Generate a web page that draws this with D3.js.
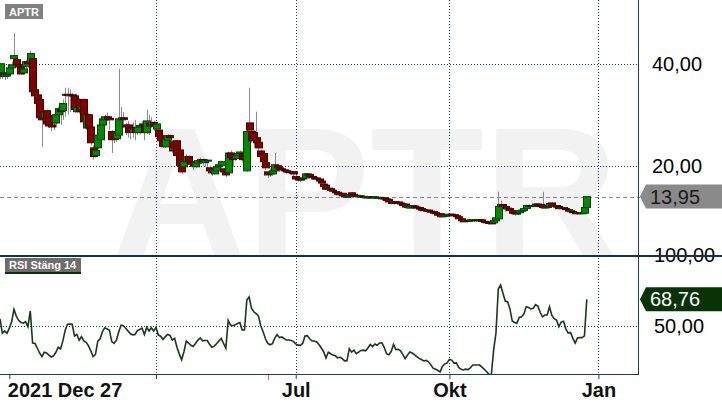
<!DOCTYPE html>
<html>
<head>
<meta charset="utf-8">
<script src="https://cdn.jsdelivr.net/npm/d3@7"></script>
<style>
  body { margin: 0; background: #fff; }
  svg { display: block; font-family: "Liberation Sans", Arial, sans-serif; }
</style>
</head>
<body>
<div class="chart"></div>
<script>
var ticker = "APTR",
    rsiName = "RSI Stäng 14";

// Stockholm closing days inside the period
var holidays = ["2021-12-31", "2022-01-06", "2022-04-15", "2022-04-18", "2022-05-26",
                "2022-06-06", "2022-06-24", "2022-12-26"];

var tickDates = ["2022-01-03", "2022-04-01", "2022-07-01", "2022-10-03", "2023-01-02"],
    tickLabels = ["2021 Dec 27", "", "Jul", "Okt", "Jan"],
    gridDates = ["2022-04-01", "2022-07-01", "2022-10-03", "2023-01-02"],
    eventDates = ["2022-06-14"];

var priceTicks = [20, 40],
    rsiTicks = [50, 100],
    rsiLevel = 50;

var open = [
  37.6, 38.2, 37.5, 37.6, 38.0, 39.2, 41.0, 40.8, 39.8, 39.4,
  38.2, 39.4, 40.4, 40.2, 41.0, 34.9, 33.9, 33.0, 29.4, 29.4,
  30.8, 29.8, 28.0, 29.8, 28.4, 30.0, 31.0, 30.8, 33.9, 34.0,
  33.9, 33.9, 33.7, 30.6, 33.0, 31.0, 33.0, 27.4, 30.0, 27.6,
  23.5, 22.0, 23.5, 25.1, 28.0, 29.0, 29.6, 29.3, 26.7, 25.4,
  25.3, 26.0, 29.0, 29.4, 28.0, 28.0, 27.5, 26.6, 27.5, 26.5,
  27.6, 28.0, 28.0, 26.5, 28.4, 27.8, 28.5, 27.2, 27.0, 25.9,
  24.8, 23.7, 25.0, 25.9, 24.7, 23.0, 24.9, 23.1, 20.0, 19.8,
  20.8, 21.8, 20.8, 20.2, 19.8, 20.5, 20.8, 21.2, 20.6, 21.0,
  19.6, 19.0, 18.4, 19.0, 19.8, 20.0, 19.4, 18.8, 18.6, 22.5,
  21.6, 21.4, 22.0, 22.4, 22.4, 22.0, 19.0, 28.4, 26.7, 26.5,
  25.5, 24.6, 22.9, 22.4, 20.6, 18.8, 18.4, 18.4, 19.0, 20.0,
  19.6, 19.4, 19.2, 19.0, 18.9, 18.8, 18.8, 17.9, 17.6, 17.4,
  17.4, 17.6, 18.2, 18.3, 17.9, 17.6, 17.6, 17.4, 17.0, 16.4,
  16.2, 15.5, 15.5, 15.2, 14.9, 14.8, 14.5, 14.6, 14.2, 13.9,
  14.0, 14.7, 14.4, 14.2, 14.1, 14.0, 14.0, 13.8, 13.7, 13.8,
  13.9, 13.7, 13.8, 13.6, 13.5, 13.7, 13.5, 13.4, 13.0, 12.6,
  12.9, 12.9, 12.7, 12.5, 12.5, 11.9, 11.7, 11.8, 12.1, 11.9,
  11.8, 11.6, 11.4, 11.3, 11.3, 11.1, 11.0, 10.8, 10.6, 10.6,
  10.0, 10.1, 10.2, 10.2, 10.5, 10.4, 10.2, 10.0, 9.6, 9.2,
  9.1, 9.3, 9.2, 9.3, 9.35, 9.4, 9.3, 9.4, 9.1, 9.0,
  8.9, 8.8, 8.8, 9.2, 9.6, 12.0, 12.4, 12.0, 11.6, 11.6,
  11.2, 10.8, 10.6, 10.8, 11.1, 11.2, 11.6, 12.1, 12.2, 12.1,
  12.2, 12.5, 12.4, 12.3, 11.8, 11.9, 12.0, 12.7, 12.0, 12.2,
  12.0, 11.7, 11.8, 11.6, 11.4, 11.1, 11.0, 10.8, 10.6, 10.8,
  10.7, 10.7, 11.8
];

var high = [
  40.2, 38.8, 38.4, 38.2, 39.5, 40.4, 46.0, 41.2, 40.4, 39.8,
  39.4, 40.8, 41.0, 42.6, 41.5, 35.5, 34.5, 33.4, 30.0, 30.8,
  31.0, 30.2, 28.4, 30.2, 30.4, 31.6, 31.4, 33.0, 35.3, 35.3,
  35.0, 34.3, 34.0, 33.0, 33.2, 32.0, 33.2, 30.4, 30.4, 28.0,
  24.0, 23.6, 26.4, 28.4, 29.6, 30.0, 30.4, 29.8, 27.0, 26.0,
  27.0, 39.0, 31.5, 30.5, 28.4, 28.8, 28.0, 28.5, 29.0, 28.0,
  28.2, 28.8, 28.2, 31.0, 30.0, 29.5, 28.8, 28.6, 27.4, 26.2,
  25.2, 25.9, 26.2, 26.1, 25.0, 24.9, 25.1, 23.3, 20.3, 21.2,
  22.2, 22.0, 21.0, 20.6, 21.0, 21.4, 21.6, 21.4, 21.4, 21.3,
  20.0, 19.4, 19.8, 20.2, 20.5, 21.0, 19.6, 19.0, 22.8, 23.0,
  22.0, 22.4, 22.6, 23.0, 22.6, 22.2, 27.0, 35.3, 27.0, 27.0,
  30.6, 25.0, 23.2, 22.6, 21.0, 19.0, 19.5, 19.2, 22.5, 20.4,
  19.8, 19.6, 19.4, 19.2, 19.2, 19.0, 19.0, 18.2, 17.8, 17.6,
  17.9, 18.6, 18.6, 18.4, 18.1, 17.8, 17.8, 17.5, 17.1, 16.5,
  16.3, 15.8, 15.6, 15.4, 15.1, 14.9, 14.7, 14.8, 14.3, 14.1,
  14.7, 14.8, 14.7, 14.4, 14.3, 14.2, 14.2, 14.0, 14.0, 14.1,
  14.0, 14.0, 14.0, 13.9, 13.8, 13.8, 13.6, 13.5, 13.1, 13.0,
  13.0, 13.0, 12.8, 12.6, 12.6, 12.1, 12.2, 12.3, 12.2, 12.0,
  11.9, 11.7, 11.5, 11.4, 11.4, 11.2, 11.1, 10.9, 10.7, 10.7,
  10.4, 10.5, 10.5, 10.6, 10.6, 10.5, 10.3, 10.1, 9.7, 9.4,
  9.4, 9.4, 9.5, 9.5, 9.5, 9.5, 9.5, 9.5, 9.2, 9.1,
  9.0, 8.9, 9.5, 10.0, 14.9, 13.2, 12.5, 12.1, 11.9, 11.7,
  11.3, 10.9, 11.0, 11.4, 11.5, 11.8, 12.4, 12.4, 12.4, 12.5,
  12.6, 12.6, 12.5, 14.9, 12.1, 12.2, 12.8, 12.8, 12.3, 12.3,
  12.0, 12.0, 12.0, 11.8, 11.5, 11.3, 11.1, 10.9, 10.9, 10.9,
  10.9, 11.9, 13.95
];

var low = [
  37.0, 37.0, 36.8, 37.0, 37.5, 39.0, 40.6, 39.5, 39.0, 37.8,
  37.8, 39.2, 39.6, 40.0, 34.0, 33.0, 31.8, 29.0, 23.7, 29.0,
  28.0, 27.4, 26.8, 27.0, 27.5, 29.6, 28.0, 29.0, 29.6, 30.0,
  30.5, 32.0, 30.4, 30.4, 30.2, 29.0, 28.0, 27.0, 27.0, 24.0,
  21.2, 21.6, 23.2, 24.8, 27.0, 28.0, 28.8, 27.0, 22.5, 24.4,
  24.6, 25.5, 28.0, 27.5, 26.0, 25.5, 25.2, 25.5, 25.0, 26.0,
  26.2, 27.0, 25.0, 26.2, 26.0, 27.4, 26.8, 26.5, 25.2, 24.4,
  23.5, 23.5, 24.5, 24.0, 22.5, 22.6, 21.6, 19.6, 18.4, 19.4,
  20.4, 20.4, 19.9, 19.2, 19.5, 20.2, 20.4, 20.0, 19.8, 19.0,
  18.6, 18.0, 18.2, 18.6, 19.4, 19.6, 18.2, 17.8, 18.4, 21.2,
  19.8, 21.0, 21.6, 21.5, 20.8, 20.6, 18.8, 26.2, 24.5, 23.5,
  23.5, 23.0, 21.4, 20.2, 19.2, 17.6, 17.8, 18.0, 18.8, 19.2,
  18.8, 18.8, 18.6, 18.4, 18.4, 18.2, 18.0, 17.0, 16.9, 16.8,
  17.1, 17.4, 17.6, 17.6, 17.2, 17.2, 17.0, 16.8, 16.4, 15.6,
  15.2, 15.2, 15.0, 14.8, 14.6, 14.2, 14.2, 14.0, 13.7, 13.7,
  13.9, 14.0, 13.8, 13.8, 13.8, 13.7, 13.6, 13.5, 13.5, 13.6,
  13.6, 13.5, 13.5, 13.4, 13.2, 13.3, 13.0, 12.7, 12.4, 12.4,
  12.5, 12.4, 12.3, 12.0, 11.8, 11.7, 11.6, 11.6, 11.6, 11.5,
  11.3, 11.2, 11.0, 11.0, 10.9, 10.7, 10.6, 10.5, 10.2, 9.9,
  9.9, 10.0, 10.0, 10.1, 10.2, 10.0, 9.9, 9.4, 9.0, 9.0,
  9.0, 9.0, 9.1, 9.2, 9.2, 9.2, 9.2, 9.0, 8.8, 8.6,
  8.5, 8.5, 8.7, 9.1, 9.5, 11.8, 11.4, 11.0, 11.2, 10.6,
  10.4, 10.2, 10.4, 10.6, 10.8, 11.0, 11.5, 11.9, 11.9, 11.9,
  12.0, 12.1, 11.8, 11.6, 11.6, 11.7, 11.9, 11.9, 11.8, 11.6,
  11.4, 11.5, 11.5, 11.1, 10.9, 10.9, 10.6, 10.5, 10.4, 10.5,
  10.5, 10.5, 11.6
];

var close = [
  40.0, 37.6, 38.0, 37.9, 39.2, 39.8, 41.6, 39.8, 39.4, 38.0,
  39.0, 40.4, 40.0, 42.0, 34.5, 33.7, 32.2, 29.4, 29.0, 30.4,
  28.2, 27.8, 27.6, 28.4, 30.0, 31.2, 30.6, 32.2, 34.0, 33.8,
  33.9, 33.7, 31.0, 31.4, 30.6, 31.6, 28.6, 30.0, 27.4, 24.5,
  21.8, 23.0, 26.0, 28.0, 29.2, 29.6, 29.2, 29.0, 25.1, 25.2,
  26.4, 29.2, 29.4, 29.1, 27.6, 26.5, 26.9, 27.1, 26.5, 27.6,
  27.9, 28.2, 26.5, 28.8, 27.8, 28.5, 27.8, 28.2, 25.7, 24.9,
  23.8, 25.2, 25.9, 25.5, 22.9, 23.5, 22.0, 20.0, 18.8, 20.8,
  21.8, 20.8, 20.3, 19.9, 20.6, 21.0, 21.2, 20.8, 21.0, 21.1,
  19.0, 18.6, 19.2, 19.8, 20.2, 20.8, 18.8, 18.2, 22.5, 21.6,
  21.2, 22.0, 22.4, 22.7, 21.2, 21.2, 26.7, 27.0, 24.9, 25.0,
  24.5, 23.5, 21.8, 20.8, 19.6, 18.2, 18.6, 19.0, 20.2, 19.6,
  19.2, 19.3, 19.0, 18.8, 18.8, 18.6, 18.4, 17.4, 17.2, 17.2,
  17.6, 18.4, 18.4, 17.9, 17.7, 17.6, 17.4, 17.0, 16.6, 15.9,
  15.4, 15.6, 15.2, 15.0, 14.8, 14.4, 14.4, 14.1, 13.9, 14.0,
  14.4, 14.2, 14.3, 14.0, 14.1, 14.1, 13.9, 13.9, 13.9, 13.9,
  13.8, 13.9, 13.8, 13.8, 13.7, 13.5, 13.2, 12.9, 12.6, 12.9,
  12.7, 12.6, 12.5, 12.2, 11.9, 12.0, 12.0, 12.2, 12.0, 11.7,
  11.5, 11.3, 11.2, 11.2, 11.0, 10.9, 10.7, 10.6, 10.3, 10.0,
  10.2, 10.3, 10.4, 10.5, 10.4, 10.2, 10.1, 9.6, 9.2, 9.1,
  9.3, 9.2, 9.4, 9.4, 9.45, 9.3, 9.4, 9.1, 8.9, 8.8,
  8.7, 8.6, 9.3, 9.8, 12.0, 12.4, 12.0, 11.6, 11.7, 11.2,
  10.7, 10.6, 10.7, 11.2, 11.3, 11.6, 12.2, 12.2, 12.1, 12.2,
  12.5, 12.4, 12.0, 11.8, 11.9, 12.0, 12.6, 12.1, 12.2, 11.9,
  11.6, 11.8, 11.7, 11.4, 11.1, 11.2, 10.8, 10.6, 10.8, 10.7,
  10.8, 11.8, 13.95
];

var rsi = [
  55, 45, 46.5, 44.8, 48.5, 53, 61.7, 57, 54, 52.5,
  52, 53, 49.5, 60.6, 38, 37.8, 34.5, 31, 28.4, 31.5,
  31, 29.5, 28.2, 29, 31.5, 35, 33.8, 39.5, 47, 51.3,
  51.4, 51.2, 43, 44, 40, 42.5, 39.5, 38.5, 36, 32.5,
  28.4, 30, 39.4, 41, 46, 48.8, 47.9, 47, 39, 37.8,
  40, 46, 50.6, 50.2, 48.4, 46.5, 44.5, 43.8, 44, 46.8,
  47.5, 48.5, 44, 49, 46.5, 48.8, 46.5, 49, 43.6, 42.8,
  40.6, 42.5, 44, 43.4, 40.1, 41.3, 35, 30.2, 26.2, 31.9,
  39.4, 38, 36.4, 35.6, 37.8, 40.1, 41.6, 39.5, 39.8, 39.8,
  37.1, 35, 35.8, 37.5, 39.4, 41.3, 37.8, 34.5, 54, 50.7,
  50.2, 50.8, 51.8, 52.4, 47.2, 47.2, 68.3, 70.5, 62.5, 60,
  58.7, 57, 50, 46, 41, 37.8, 36.8, 37.6, 41.5, 44,
  41.8, 42.3, 41.2, 40.1, 40.1, 39.8, 39.2, 37.4, 36.5, 36.4,
  37.8, 43, 43.2, 41, 39.4, 39.4, 38.8, 37, 34.5, 31.9,
  27.5, 31.5, 30.5, 29.5, 29, 27.5, 28, 27, 25.4, 25.6,
  34, 31.6, 33, 30.5, 31.6, 32.8, 33, 32.5, 34.5, 37,
  35.5, 37.3, 36.4, 38, 38.2, 35, 30.5, 29.8, 32, 37,
  33.4, 33.6, 32.5, 30, 27, 29.5, 31.7, 31, 29.8, 28.4,
  27.2, 26.4, 25.4, 25.8, 24.8, 22.8, 20.3, 19.6, 18.8, 17.6,
  21.5, 23.2, 24, 26.5, 26, 23.9, 24, 20.8, 19.5, 19,
  19.6, 19.3, 20.5, 22.5, 22.5, 22.5, 22.5, 21, 19.5, 17.8,
  16, 15.5, 33, 45, 76, 78.8, 73, 67.6, 67.1, 62,
  53.5, 52.5, 52, 56, 56.5, 58.5, 63.5, 63, 62, 62.4,
  65, 64, 59.5, 56.5, 57.7, 57.7, 63.5, 57.5, 55.2, 54.2,
  49.5, 52.8, 53.4, 48, 45, 45.5, 41.5, 38, 41.5, 41.8,
  41.8, 43, 68.76
];

var width = 722,
    height = 410,
    plotRight = 638,
    priceBottom = 255,
    rsiBottom = 374,
    candleWidth = 7,
    navy = "#1f3d63";

// trading calendar, weekdays minus closing days
var days = [];
for (var d = new Date(Date.UTC(2021, 11, 27)); days.length < 270; d.setUTCDate(d.getUTCDate() + 1)) {
    var wd = d.getUTCDay(), s = d.toISOString().slice(0, 10);
    if (wd > 0 && wd < 6 && holidays.indexOf(s) < 0) days.push(s);
}
var data = close.map(function (c, i) {
    return { i: i, date: days[i], o: open[i], h: high[i], l: low[i], c: c, rsi: rsi[i] };
});
function dayIndex(s) { return days.indexOf(s); }

var num = d3.formatLocale({ decimal: ",", thousands: " ", grouping: [3], currency: ["", ""] }).format(".2f");

var x = d3.scaleLinear().domain([0, 274]).range([0, plotRight]);
var y = d3.scaleLinear().domain([2.5, 52.5]).range([priceBottom, 0]);
var yRsi = d3.scaleLinear().domain([16.2, 100]).range([rsiBottom, priceBottom]);

var svg = d3.select(".chart").append("svg")
    .attr("width", width)
    .attr("height", height);

var defs = svg.append("defs");
defs.append("clipPath").attr("id", "clipPrice")
    .append("rect").attr("x", 0).attr("y", 0).attr("width", plotRight).attr("height", priceBottom + 3);
defs.append("clipPath").attr("id", "clipRsi")
    .append("rect").attr("x", 0).attr("y", priceBottom).attr("width", plotRight).attr("height", rsiBottom - priceBottom);

// watermark
svg.append("text")
    .attr("clip-path", "url(#clipPrice)")
    .attr("x", 365)
    .attr("y", priceBottom + 2)
    .attr("text-anchor", "middle")
    .style("font-size", "186px")
    .style("font-weight", "bold")
    .style("fill", "#f2f2f2")
    .text(ticker);

// grid
var grid = svg.append("g")
    .attr("stroke", navy)
    .attr("stroke-width", 1)
    .attr("stroke-dasharray", "1,2");

grid.selectAll(".hp").data(priceTicks).enter().append("line")
    .attr("x1", 0).attr("x2", plotRight)
    .attr("y1", function (d) { return Math.round(y(d)) + 0.5; })
    .attr("y2", function (d) { return Math.round(y(d)) + 0.5; });

grid.selectAll(".hr").data([rsiLevel]).enter().append("line")
    .attr("x1", 0).attr("x2", plotRight)
    .attr("y1", function (d) { return Math.round(yRsi(d)) + 0.5; })
    .attr("y2", function (d) { return Math.round(yRsi(d)) + 0.5; });

grid.selectAll(".v").data(gridDates).enter().append("line")
    .attr("x1", function (d) { return Math.round(x(dayIndex(d))) + 0.5; })
    .attr("x2", function (d) { return Math.round(x(dayIndex(d))) + 0.5; })
    .attr("y1", 0).attr("y2", rsiBottom);

// last price line
var last = data[data.length - 1];
svg.append("line")
    .attr("x1", 0).attr("x2", plotRight + 2)
    .attr("y1", Math.round(y(last.c)) + 0.5)
    .attr("y2", Math.round(y(last.c)) + 0.5)
    .attr("stroke", "#8a8a8a")
    .attr("stroke-dasharray", "4,3");

// candles
var price = svg.append("g").attr("clip-path", "url(#clipPrice)");

price.selectAll(".wick").data(data).enter().append("line")
    .attr("x1", function (d) { return Math.round(x(d.i)) + 0.5; })
    .attr("x2", function (d) { return Math.round(x(d.i)) + 0.5; })
    .attr("y1", function (d) { return y(d.h); })
    .attr("y2", function (d) { return y(d.l); })
    .attr("stroke", "#8c8c8c");

price.selectAll(".body").data(data).enter().append("rect")
    .attr("x", function (d) { return Math.round(x(d.i) - candleWidth / 2) + 0.5; })
    .attr("y", function (d) { return y(Math.max(d.o, d.c)); })
    .attr("width", candleWidth)
    .attr("height", function (d) { return Math.max(1, Math.abs(y(d.o) - y(d.c))); })
    .attr("fill", function (d) { return d.c >= d.o ? "#008a00" : "#800000"; })
    .attr("stroke", function (d) { return d.c >= d.o ? "#0b3f0b" : "#4a0000"; })
    .attr("stroke-width", 1);

// RSI line
svg.append("path")
    .datum(data)
    .attr("clip-path", "url(#clipRsi)")
    .attr("fill", "none")
    .attr("stroke", "#173a17")
    .attr("stroke-width", 1.6)
    .attr("d", d3.line()
        .x(function (d) { return x(d.i); })
        .y(function (d) { return yRsi(d.rsi); }));

// right axes
var priceAxis = svg.append("g")
    .attr("transform", "translate(" + plotRight + ",0)")
    .call(d3.axisRight(y).tickValues(priceTicks).tickSize(0).tickPadding(14).tickFormat(num));
var rsiAxis = svg.append("g")
    .attr("transform", "translate(" + plotRight + ",0)")
    .call(d3.axisRight(yRsi).tickValues(rsiTicks).tickSize(0).tickPadding(16).tickFormat(num));
[priceAxis, rsiAxis].forEach(function (g) {
    g.select(".domain").remove();
    g.selectAll("text")
        .style("font-family", "'Liberation Sans', Arial, sans-serif")
        .style("font-size", "20px")
        .attr("fill", "#000");
});

// bottom axis
var tickIdx = tickDates.map(dayIndex);
var xAxis = svg.append("g")
    .attr("transform", "translate(0," + rsiBottom + ")")
    .call(d3.axisBottom(x).tickValues(tickIdx).tickSize(5).tickPadding(4)
        .tickFormat(function (d, i) { return tickLabels[i]; }));
xAxis.select(".domain").remove();
xAxis.selectAll("line").attr("stroke", navy);
xAxis.selectAll("text")
    .style("font-family", "'Liberation Sans', Arial, sans-serif")
    .style("font-size", "20px")
    .style("font-weight", "bold")
    .attr("fill", "#111")
    .attr("text-anchor", function (d, i) { return i === 0 ? "start" : "middle"; })
    .attr("x", function (d, i) { return i === 0 ? -2 : 0; });

svg.selectAll(".event").data(eventDates).enter().append("line")
    .attr("x1", function (d) { return Math.round(x(dayIndex(d))) + 0.5; })
    .attr("x2", function (d) { return Math.round(x(dayIndex(d))) + 0.5; })
    .attr("y1", rsiBottom).attr("y2", rsiBottom + 6)
    .attr("stroke", "#ff5a5a");

// frame
svg.append("line")
    .attr("x1", plotRight + 0.5).attr("x2", plotRight + 0.5)
    .attr("y1", 0).attr("y2", rsiBottom)
    .attr("stroke", navy);
svg.append("line")
    .attr("x1", 0).attr("x2", plotRight + 1)
    .attr("y1", rsiBottom + 0.5).attr("y2", rsiBottom + 0.5)
    .attr("stroke", navy);
svg.append("line")
    .attr("x1", 0).attr("x2", width)
    .attr("y1", priceBottom + 1).attr("y2", priceBottom + 1)
    .attr("stroke", "#16304a")
    .attr("stroke-width", 2);

// value tags
function tag(cy, fill, textFill, label) {
    var g = svg.append("g");
    g.append("path")
        .attr("d", "M" + (plotRight + 2) + "," + cy + "L" + (plotRight + 8) + "," + (cy - 12) +
            "H" + width + "V" + (cy + 12) + "H" + (plotRight + 8) + "Z")
        .attr("fill", fill);
    g.append("text")
        .attr("x", plotRight + 12)
        .attr("y", cy + 7)
        .style("font-size", "20px")
        .attr("fill", textFill)
        .text(label);
}
tag(y(last.c), "#8a8a8a", "#1a1a1a", num(last.c));
tag(yRsi(last.rsi), "#073307", "#fff", num(last.rsi));

// panel names
function nameBox(x0, y0, w, h, fill, label, underline) {
    svg.append("rect").attr("x", x0).attr("y", y0).attr("width", w).attr("height", h).attr("fill", fill);
    if (underline) {
        svg.append("rect").attr("x", x0).attr("y", y0 + h).attr("width", w).attr("height", 2).attr("fill", underline);
    }
    svg.append("text")
        .attr("x", x0 + 4)
        .attr("y", y0 + h - 3)
        .style("font-size", "11px")
        .style("font-weight", "bold")
        .attr("fill", "#fff")
        .text(label);
}
nameBox(5, 4, 38, 15, "#808080", ticker, null);
nameBox(5, 258, 76, 14, "#6d6d6d", rsiName, "#0b300b");
</script>
</body>
</html>
